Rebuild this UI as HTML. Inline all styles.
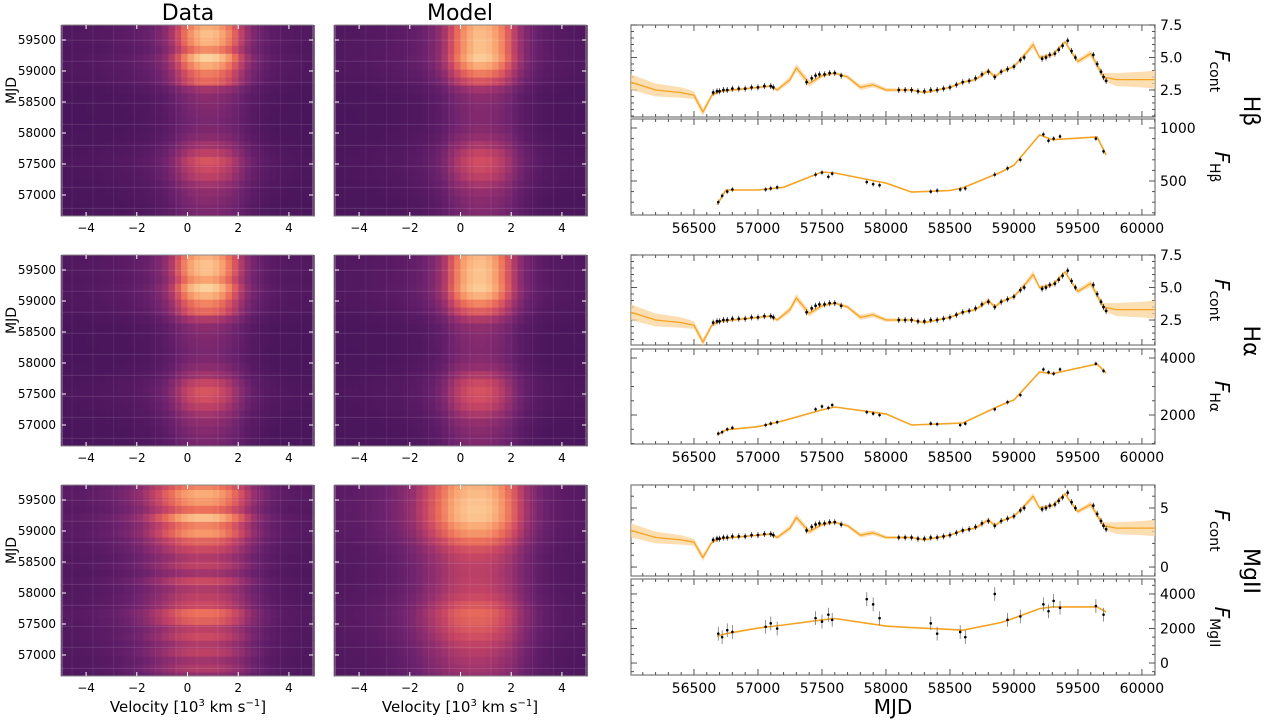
<!DOCTYPE html>
<html><head><meta charset="utf-8"><style>
html,body{margin:0;padding:0;background:#fff;}
svg{display:block;font-family:"DejaVu Sans","Liberation Sans",sans-serif;}
</style></head><body>
<svg id="fig" width="1268" height="722" viewBox="0 0 1268 722" xmlns="http://www.w3.org/2000/svg">
<text x="188" y="20" font-size="22" text-anchor="middle">Data</text>
<text x="460" y="20" font-size="22" text-anchor="middle">Model</text>
<text x="188" y="712" font-size="15" text-anchor="middle">Velocity [10<tspan dy="-6" font-size="10">3</tspan><tspan dy="6"> km s</tspan><tspan dy="-6" font-size="10">−1</tspan><tspan dy="6">]</tspan></text>
<text x="460" y="712" font-size="15" text-anchor="middle">Velocity [10<tspan dy="-6" font-size="10">3</tspan><tspan dy="6"> km s</tspan><tspan dy="-6" font-size="10">−1</tspan><tspan dy="6">]</tspan></text>
<text x="893" y="714" font-size="20" text-anchor="middle">MJD</text>
</svg>
<script>
// ---------- data ----------
const velBins = [-4.875,-4.625,-4.375,-4.125,-3.875,-3.625,-3.375,-3.125,-2.875,-2.625,-2.375,-2.125,-1.875,-1.625,-1.375,-1.125,-0.875,-0.625,-0.375,-0.125,0.125,0.375,0.625,0.875,1.125,1.375,1.625,1.875,2.125,2.375,2.625,2.875,3.125,3.375,3.625,3.875,4.125,4.375,4.625,4.875];
const profHb = [.06,.06,.07,.07,.08,.08,.09,.1,.11,.12,.13,.15,.17,.2,.24,.3,.38,.5,.64,.78,.88,.95,1,1,.98,.93,.85,.73,.58,.44,.32,.24,.18,.14,.12,.1,.09,.08,.07,.07];
const profHa = [.06,.06,.07,.07,.08,.08,.09,.1,.11,.12,.13,.15,.17,.2,.25,.31,.4,.52,.68,.82,.92,.97,1,1,.97,.91,.81,.68,.52,.38,.27,.2,.15,.12,.1,.09,.08,.08,.07,.07];
const profMg = [.12,.13,.14,.15,.16,.18,.2,.22,.25,.29,.33,.38,.44,.52,.6,.68,.76,.83,.9,.95,.98,1,1,1,.98,.94,.88,.8,.7,.58,.46,.36,.28,.22,.18,.15,.13,.12,.11,.1];
const heatEpochs = [56660,56788,56916,57044,57172,57300,57428,57556,57684,57812,57940,58068,58196,58324,58452,58580,58708,58836,58964,59092,59220,59348,59476,59604,59732];
const hbData  = [.3,.3,.34,.38,.45,.55,.6,.65,.55,.45,.35,.3,.28,.3,.32,.35,.45,.72,.78,.9,1,.82,.92,.95,.9];
const hbModel = [.32,.33,.35,.4,.47,.55,.6,.62,.57,.48,.4,.34,.32,.32,.33,.36,.45,.65,.78,.9,.98,.95,.95,.94,.92];
const haData  = [.28,.3,.33,.38,.45,.55,.62,.65,.58,.45,.36,.3,.28,.3,.32,.36,.5,.72,.8,.92,1,.88,.95,.96,.92];
const haModel = [.3,.32,.35,.4,.48,.57,.62,.64,.6,.5,.4,.34,.32,.33,.34,.38,.5,.68,.8,.92,.98,.96,.96,.95,.93];
const mgData  = [.4,.5,.45,.55,.5,.6,.55,.7,.75,.6,.55,.5,.6,.45,.55,.5,.6,.7,.85,.8,.95,.75,.85,.9,.8];
const mgModel = [.42,.45,.48,.52,.56,.62,.66,.7,.72,.66,.6,.56,.55,.54,.55,.58,.64,.74,.84,.9,.96,.97,.96,.94,.92];
const contMJD = [56008,56200,56400,56500,56570,56640,56700,56900,57000,57100,57150,57250,57300,57400,57500,57600,57700,57800,57900,58000,58200,58300,58400,58500,58600,58700,58800,58850,58900,59000,59100,59150,59200,59300,59400,59450,59500,59550,59600,59700,59800,60000,60102];
const contVal = [3.1,2.5,2.3,2.1,0.8,2.1,2.4,2.6,2.7,2.8,2.5,3.3,4.2,3.0,3.6,3.8,3.5,2.7,2.9,2.5,2.5,2.3,2.5,2.7,3.1,3.3,4.0,3.5,3.9,4.3,5.4,6.0,5.0,5.2,6.2,5.4,4.7,5.0,5.3,3.5,3.3,3.3,3.3];
const contErr = [0.6,0.5,0.4,0.3,0.3,0.15,0.1,0.1,0.1,0.1,0.15,0.25,0.3,0.25,0.15,0.1,0.15,0.2,0.2,0.15,0.1,0.1,0.1,0.1,0.1,0.12,0.2,0.15,0.12,0.12,0.2,0.3,0.15,0.15,0.15,0.15,0.2,0.2,0.25,0.3,0.5,0.6,0.7];
const contObsMJD = [56650,56680,56700,56730,56760,56800,56850,56900,56950,57000,57050,57100,57120,57380,57420,57450,57480,57520,57560,57600,57650,58100,58150,58200,58250,58300,58350,58400,58450,58500,58550,58600,58650,58700,58750,58800,58850,58900,58950,59000,59050,59080,59220,59250,59280,59320,59350,59380,59420,59450,59480,59620,59650,59680,59700,59720];
const contObsVal = [2.3,2.4,2.4,2.5,2.5,2.6,2.6,2.6,2.7,2.7,2.8,2.8,2.7,3.1,3.4,3.6,3.7,3.7,3.8,3.8,3.6,2.5,2.5,2.5,2.4,2.4,2.5,2.5,2.6,2.7,2.9,3.1,3.2,3.4,3.7,3.9,3.5,3.9,4.1,4.3,4.8,5.0,4.9,5.0,5.2,5.3,5.6,5.9,6.3,5.5,5.0,5.2,4.5,3.9,3.5,3.2];
const lineMJD = [56680,56750,57000,57200,57500,57600,58000,58200,58500,58600,58900,59000,59200,59300,59650,59720];
const hbLine = [275,415,415,440,585,575,480,395,410,435,585,650,935,890,915,745];
const haLine = [1300,1480,1590,1800,2180,2280,2040,1650,1700,1720,2350,2530,3510,3450,3790,3470];
const mgLine = [1560,1700,2020,2200,2500,2580,2140,2050,1950,1900,2350,2600,3150,3250,3250,2960];
const lineObsMJD = [56690,56720,56760,56800,57060,57100,57150,57450,57500,57550,57580,57850,57900,57950,58350,58400,58580,58620,58850,58950,59050,59230,59270,59310,59360,59640,59700];
const hbObs = [300,360,400,420,420,430,440,560,580,540,570,490,470,460,400,410,420,430,560,620,700,940,880,900,920,900,780];
const haObs = [1350,1400,1500,1550,1650,1700,1750,2200,2300,2250,2350,2100,2050,2000,1700,1680,1650,1700,2200,2450,2700,3600,3500,3450,3600,3800,3550];
const mgObs = [1700,1500,1900,1800,2100,2300,2000,2600,2400,2800,2500,3700,3400,2600,2300,1700,1800,1500,4000,2500,2700,3400,3000,3600,3200,3300,2800];
const heatYTicks = [57000,57500,58000,58500,59000,59500];
const velTicks = [-4,-2,0,2,4];
const mjdTicks = [56500,57000,57500,58000,58500,59000,59500,60000];

// ---------- helpers ----------
const svg = document.getElementById('fig');
const NS = 'http://www.w3.org/2000/svg';
function mk(tag, attrs, parent){const e=document.createElementNS(NS,tag);for(const k in attrs)e.setAttribute(k,attrs[k]);(parent||svg).appendChild(e);return e;}
const stops=[[0,[35,12,58]],[0.2,[70,20,90]],[0.38,[110,35,110]],[0.52,[150,48,110]],[0.66,[200,70,100]],[0.78,[235,110,90]],[0.88,[248,160,110]],[1,[253,220,165]]];
function cmap(t){t=Math.max(0,Math.min(1,t));for(let i=1;i<stops.length;i++){if(t<=stops[i][0]){const a=stops[i-1],b=stops[i];const f=(t-a[0])/(b[0]-a[0]);return 'rgb('+a[1].map((c,j)=>Math.round(c+(b[1][j]-c)*f)).join(',')+')';}}return 'rgb(253,220,165)';}

function heatmap(x0,y0,w,h,strength,prof,name,base){
  const g=mk('g',{});
  
  
  const vx=v=>x0+(v+4.95)/9.9*w;
  const ty=t=>y0+h-(t-56661)/(59742-56661)*h;
  const half=(heatEpochs[1]-heatEpochs[0])/2;
  for(let i=0;i<heatEpochs.length;i++){
    const yt=ty(Math.min(heatEpochs[i]+half,59742)), yb=ty(Math.max(heatEpochs[i]-half,56661));
    for(let j=0;j<velBins.length;j++){
      const xa=vx(velBins[j]-0.125), xb=vx(velBins[j]+0.125);
      const c=mk('rect',{x:xa.toFixed(2),y:yt.toFixed(2),width:(xb-xa+0.4).toFixed(2),height:(yb-yt+0.4).toFixed(2),fill:cmap(base+0.78*strength[i]*prof[j])},g);
      
      
    }
  }
  for(let k=0;k<9;k++){mk('line',{x1:x0,x2:x0+w,y1:y0+h*(0.08+k*0.11),y2:y0+h*(0.08+k*0.11),stroke:'#fff','stroke-opacity':0.12,'stroke-width':1},g);}
  for(let k=0;k<12;k++){mk('line',{y1:y0,y2:y0+h,x1:x0+w*(0.04+k*0.083),x2:x0+w*(0.04+k*0.083),stroke:'#fff','stroke-opacity':0.07,'stroke-width':1},g);}
  mk('rect',{x:x0,y:y0,width:w,height:h,fill:'none',stroke:'#888','stroke-width':1},g);
  heatYTicks.forEach(t=>{const y=ty(t);mk('line',{x1:x0,x2:x0+4,y1:y,y2:y,stroke:'#fff'},g);mk('line',{x1:x0+w-4,x2:x0+w,y1:y,y2:y,stroke:'#fff'},g);});
  velTicks.forEach(v=>{const x=vx(v);mk('line',{x1:x,x2:x,y1:y0,y2:y0+4,stroke:'#fff'},g);mk('line',{x1:x,x2:x,y1:y0+h-4,y2:y0+h,stroke:'#fff'},g);
    const t=mk('text',{x:x,y:y0+h+16,'font-size':12,'text-anchor':'middle'},g);t.textContent=(v<0?'−':'')+Math.abs(v);});
  return {ty};
}

function panel(x0,y0,w,h,ymin,ymax,yticks,dec,minorStep,name){
  const g=mk('g',{});
  
  
  const X=m=>x0+(m-56008)/(60102-56008)*w;
  const Y=v=>y0+h-(v-ymin)/(ymax-ymin)*h;
  mk('rect',{x:x0,y:y0,width:w,height:h,fill:'none',stroke:'#777','stroke-width':1.2},g);
  for(let m=56100;m<60102;m+=100){const x=X(m);const big=m%500===0;const L=big?6:3;mk('line',{x1:x,x2:x,y1:y0+h,y2:y0+h-L,stroke:'#555'},g);mk('line',{x1:x,x2:x,y1:y0,y2:y0+L,stroke:'#555'},g);}
  for(let v=Math.ceil(ymin/minorStep)*minorStep;v<=ymax;v+=minorStep){const y=Y(v);mk('line',{x1:x0+w,x2:x0+w-3,y1:y,y2:y,stroke:'#555'},g);mk('line',{x1:x0,x2:x0+3,y1:y,y2:y,stroke:'#555'},g);}
  yticks.forEach(v=>{const y=Y(v);mk('line',{x1:x0+w,x2:x0+w-6,y1:y,y2:y,stroke:'#555'},g);mk('line',{x1:x0,x2:x0+6,y1:y,y2:y,stroke:'#555'},g);
    const t=mk('text',{x:x0+w+5,y:y+5,'font-size':14},g);t.textContent=v.toFixed(dec);});
  return {g,X,Y};
}
function mjdLabels(x0,w,y){mjdTicks.forEach(m=>{const x=x0+(m-56008)/(60102-56008)*w;const t=mk('text',{x:x,y:y,'font-size':14,'text-anchor':'middle'});t.textContent=m;});}

function contPanel(p,name){
  let up='',dn='';
  contMJD.forEach((m,i)=>{up+=(i?'L':'M')+p.X(m).toFixed(1)+','+p.Y(contVal[i]+contErr[i]).toFixed(1);});
  for(let i=contMJD.length-1;i>=0;i--){dn+='L'+p.X(contMJD[i]).toFixed(1)+','+p.Y(contVal[i]-contErr[i]).toFixed(1);}
  const b=mk('path',{d:up+dn+'Z',fill:'#fbd39a','fill-opacity':0.75},p.g);
  const l=mk('path',{d:contMJD.map((m,i)=>(i?'L':'M')+p.X(m).toFixed(1)+','+p.Y(contVal[i]).toFixed(1)).join(''),fill:'none',stroke:'#f5a320','stroke-width':1.3,'stroke-linejoin':'round'},p.g);
  
  contObsMJD.forEach((m,i)=>{const x=p.X(m),y=p.Y(contObsVal[i]);mk('line',{x1:x,x2:x,y1:y-3,y2:y+3,stroke:'#333','stroke-width':0.8},p.g);
    const c=mk('circle',{cx:x,cy:y,r:1.4,fill:'#000'},p.g);});
}
function linePanel(p,vals,obs,err,name){
  const l=mk('path',{d:lineMJD.map((m,i)=>(i?'L':'M')+p.X(m).toFixed(1)+','+p.Y(vals[i]).toFixed(1)).join(''),fill:'none',stroke:'#f5a320','stroke-width':1.6},p.g);
  
  lineObsMJD.forEach((m,i)=>{const x=p.X(m),y=p.Y(obs[i]),e=Math.abs(p.Y(obs[i]+err)-y);mk('line',{x1:x,x2:x,y1:y-e,y2:y+e,stroke:'#777','stroke-width':0.8},p.g);
    const c=mk('circle',{cx:x,cy:y,r:1.3,fill:'#000'},p.g);});
}
function rotText(x,y,html,size,name){const t=mk('text',{x:0,y:0,'font-size':size,'text-anchor':'middle',transform:'translate('+x+','+y+') rotate(90)'});t.innerHTML=html;}
function mjdYLabel(y){const t=mk('text',{x:0,y:0,'font-size':14,'text-anchor':'middle',transform:'translate(16,'+y+') rotate(-90)'});t.textContent='MJD';}

// ---------- build ----------
const rows=[
 {y:25,h:191,sd:hbData,sm:hbModel,pr:profHb,n:'hbeta',lab:'Hβ',sub:'Hβ',cy:25,ch:92,ly:119,lh:96,cmin:0.42,cmax:7.5,ct:[2.5,5.0,7.5],cd:1,cm:0.5,lmin:179,lmax:1085,lt:[500,1000],lm:100,lv:hbLine,lo:hbObs,le:25},
 {y:255,h:191,sd:haData,sm:haModel,pr:profHa,n:'halpha',lab:'Hα',sub:'Hα',cy:255,ch:90,ly:349,lh:95,cmin:0.58,cmax:7.5,ct:[2.5,5.0,7.5],cd:1,cm:0.5,lmin:983,lmax:4316,lt:[2000,4000],lm:500,lv:haLine,lo:haObs,le:80},
 {y:485,h:191,sd:mgData,sm:mgModel,pr:profMg,n:'mgii',lab:'MgII',sub:'MgII',cy:485,ch:91,ly:579,lh:96,cmin:-0.76,cmax:6.95,ct:[0,5],cd:0,cm:1,lmin:-694,lmax:4867,lt:[0,2000,4000],lm:500,lv:mgLine,lo:mgObs,le:400}
];
rows.forEach(r=>{
  const hm=heatmap(62,r.y,251,r.h,r.sd,r.pr,r.n+'-data-heatmap',0.2);
  heatmap(335,r.y,251,r.h,r.sm,r.pr,r.n+'-model-heatmap',0.2);
  heatYTicks.forEach(t=>{const e=mk('text',{x:56,y:hm.ty(t)+4,'font-size':12,'text-anchor':'end'});e.textContent=t;});
  mjdYLabel(r.y+r.h/2-30);
  const pc=panel(631,r.cy,524,r.ch,r.cmin,r.cmax,r.ct,r.cd,r.cm,r.n+'-continuum-panel');
  contPanel(pc,r.n+'-continuum');
  const pl=panel(631,r.ly,524,r.lh,r.lmin,r.lmax,r.lt,0,r.lm,r.n+'-line-panel');
  linePanel(pl,r.lv,r.lo,r.le,r.n+'-line');
  mjdLabels(631,524,r.ly+r.lh+18);
  rotText(1215,r.cy+r.ch/2,'<tspan font-style="italic" font-size="20">F</tspan><tspan font-size="14" dy="5">cont</tspan>',20,r.n+'-continuum-axis-title');
  rotText(1215,r.ly+r.lh/2,'<tspan font-style="italic" font-size="20">F</tspan><tspan font-size="14" dy="5">'+r.sub+'</tspan>',20,r.n+'-line-axis-title');
  rotText(1244,r.ly-8,r.lab,22,r.n+'-row-label');
});
</script>
</body></html>
